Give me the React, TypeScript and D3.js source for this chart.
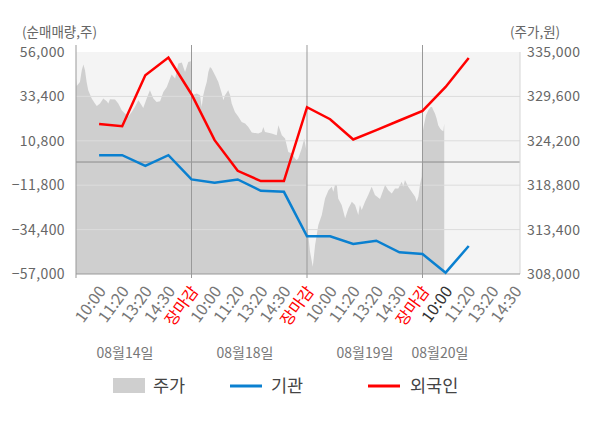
import React, { useEffect, useRef } from 'react';
import * as d3 from 'd3';

// x positions are "slots": each trading day is 5 slots wide (10:00, 11:20, 13:20, 14:30, 장마감)
const dayTickLabels = ['10:00', '11:20', '13:20', '14:30', '장마감'];
const dates = ['08월14일', '08월18일', '08월19일', '08월20일'];

// 외국인 / 기관 net buy (shares), one value per slot from slot 1
const foreign = [19400, 18230, 44160, 53150, 34500, 11120, -4490, -9720, -9720, 27890, 21790, 11470, 16200, 21130, 26010, 38210, 52950];
const institution = [3490, 3490, -1950, 3490, -8860, -10590, -8860, -14650, -15160, -37830, -37830, -41750, -40070, -45970, -46830, -56330, -42760];

// stock price per day: [slot within day, price]
const price0: [number, number][] = [
  [0, 331770], [0.03, 330870], [0.17, 331360], [0.25, 332780], [0.32, 333470], [0.39, 332780],
  [0.46, 331360], [0.53, 330350], [0.68, 329340], [0.82, 328730], [0.9, 328440], [1.04, 328730],
  [1.18, 329340], [1.33, 329010], [1.4, 328730], [1.47, 329250], [1.69, 329220], [1.83, 328730],
  [1.98, 327920], [2.12, 327520], [2.26, 327110], [2.41, 327710], [2.55, 328320], [2.7, 329130],
  [2.84, 328530], [2.91, 328200], [3.06, 329340], [3.2, 330350], [3.35, 329340], [3.49, 328930],
  [3.64, 329010], [3.78, 330140], [3.93, 330750], [4.07, 331770], [4.14, 332260], [4.29, 331770],
  [4.43, 333590], [4.58, 333710], [4.72, 332570], [4.86, 333790], [4.97, 333870],
];
const price1: [number, number][] = [
  [0, 329740], [0.23, 329950], [0.37, 329740], [0.44, 328320], [0.51, 329740], [0.58, 330550],
  [0.66, 331360], [0.73, 332570], [0.8, 333180], [0.87, 332980], [1.02, 332170], [1.16, 331360],
  [1.31, 329950], [1.38, 329130], [1.45, 329740], [1.59, 330350], [1.67, 329740], [1.74, 328730],
  [1.88, 327710], [2.03, 327110], [2.17, 326500], [2.32, 326300], [2.46, 325890], [2.61, 325210],
  [2.89, 325090], [3.04, 325280], [3.11, 325890], [3.18, 325280], [3.47, 325090], [3.69, 324880],
  [3.76, 326100], [3.91, 324880], [4.05, 324480], [4.19, 322850], [4.34, 322660], [4.48, 322050],
  [4.55, 321850], [4.62, 322050], [4.77, 323270], [4.88, 324480], [4.97, 323060],
];
const price2: [number, number][] = [
  [0.01, 313950], [0.13, 310710], [0.25, 308890], [0.35, 311520], [0.49, 313950], [0.64, 315170],
  [0.78, 317190], [0.93, 318200], [1.07, 318600], [1.14, 318000], [1.21, 318810], [1.29, 318810],
  [1.35, 317190], [1.5, 316380], [1.65, 314770], [1.79, 315980], [1.94, 316780], [2.08, 316380],
  [2.22, 315170], [2.29, 316380], [2.37, 315770], [2.51, 316780], [2.65, 317600], [2.8, 318600],
  [2.94, 317600], [3.16, 317110], [3.38, 318810], [3.52, 318200], [3.67, 317800], [3.81, 318410],
  [3.95, 318410], [4.1, 319210], [4.17, 318600], [4.24, 319420], [4.38, 318600], [4.53, 318000],
  [4.68, 317390], [4.75, 316780], [4.82, 317390], [4.89, 318810], [4.96, 319820],
];
const price3: [number, number][] = [
  [0.01, 325280], [0.06, 326100], [0.15, 327310], [0.25, 327920], [0.35, 328320], [0.41, 328320],
  [0.47, 327920], [0.54, 327520], [0.61, 326910], [0.68, 326100], [0.76, 325700], [0.83, 325490],
  [0.9, 325370], [0.94, 326300],
];
const priceDays = [price0, price1, price2, price3];

const leftTicks = [56000, 33400, 10800, -11800, -34400, -57000];
const rightTicks = [335000, 329600, 324200, 318800, 313400, 308000];

const SLOTS_PER_DAY = 5;
const FONT = '"Noto Sans CJK KR", "Noto Sans", sans-serif';

const App: React.FC = () => {
  const svgRef = useRef<SVGSVGElement>(null);

  useEffect(() => {
    if (!svgRef.current) return;
    const svg = d3.select(svgRef.current);
    svg.selectAll('*').remove();

    const left = 76, right = 520, top = 52, bottom = 274;

    const x = d3.scaleLinear().domain([0, 19.22]).range([left, right]);
    const yL = d3.scaleLinear().domain([-57000, 56000]).range([bottom, top]);
    const yR = d3.scaleLinear().domain([308000, 335000]).range([bottom, top]);

    svg.append('rect')
      .attr('x', left).attr('y', top)
      .attr('width', right - left).attr('height', bottom - top)
      .attr('fill', '#f4f4f4');

    svg.append('clipPath').attr('id', 'plot-clip')
      .append('rect')
      .attr('x', left).attr('y', top)
      .attr('width', right - left).attr('height', bottom - top);

    // price area
    const priceSeries = priceDays.flatMap((day, d) =>
      day.map(([t, p]) => ({ s: d * SLOTS_PER_DAY + t, p })));
    const area = d3.area<{ s: number; p: number }>()
      .x(d => x(d.s))
      .y0(bottom)
      .y1(d => yR(d.p));
    svg.append('path')
      .datum(priceSeries)
      .attr('clip-path', 'url(#plot-clip)')
      .attr('fill', '#cfcfcf')
      .attr('d', area);

    // grid
    svg.append('g')
      .selectAll('line')
      .data(leftTicks.slice(1, -1))
      .enter()
      .append('line')
      .attr('x1', left).attr('x2', right)
      .attr('y1', d => yL(d)).attr('y2', d => yL(d))
      .attr('stroke', '#dcdcdc')
      .attr('stroke-width', 1);

    svg.append('line')
      .attr('x1', left).attr('x2', right)
      .attr('y1', yL(0)).attr('y2', yL(0))
      .attr('stroke', '#8c8c8c');

    // day dividers + left axis line
    svg.append('g')
      .selectAll('line')
      .data([0, 5, 10, 15])
      .enter()
      .append('line')
      .attr('x1', d => x(d)).attr('x2', d => x(d))
      .attr('y1', 45).attr('y2', bottom + 4)
      .attr('stroke', '#999');

    svg.append('line')
      .attr('x1', right).attr('x2', right)
      .attr('y1', top).attr('y2', bottom)
      .attr('stroke', '#d6d6d6');

    svg.append('line')
      .attr('x1', left).attr('x2', right)
      .attr('y1', bottom).attr('y2', bottom)
      .attr('stroke', '#999');

    // lines
    const line = d3.line<number>()
      .x((_, i) => x(i + 1))
      .y(d => yL(d));
    svg.append('path')
      .datum(institution)
      .attr('fill', 'none')
      .attr('stroke', '#0a80d0')
      .attr('stroke-width', 2.5)
      .attr('d', line);
    svg.append('path')
      .datum(foreign)
      .attr('fill', 'none')
      .attr('stroke', '#ff0000')
      .attr('stroke-width', 2.5)
      .attr('d', line);

    // y axis labels
    svg.append('g')
      .selectAll('text')
      .data(leftTicks)
      .enter()
      .append('text')
      .attr('x', 65)
      .attr('y', d => yL(d))
      .attr('dy', '0.35em')
      .attr('text-anchor', 'end')
      .style('font-size', '14px')
      .style('letter-spacing', '0.4px')
      .style('fill', '#666')
      .text(d => d3.format(',')(d));

    svg.append('g')
      .selectAll('text')
      .data(rightTicks)
      .enter()
      .append('text')
      .attr('x', 527)
      .attr('y', d => yR(d))
      .attr('dy', '0.35em')
      .style('font-size', '14px')
      .style('letter-spacing', '0.4px')
      .style('fill', '#666')
      .text(d => d3.format(',')(d));

    svg.append('text')
      .attr('x', 22).attr('y', 37)
      .style('font-size', '13.5px').style('fill', '#666')
      .text('(순매매량,주)');
    svg.append('text')
      .attr('x', 510).attr('y', 37)
      .style('font-size', '13.5px').style('fill', '#666')
      .text('(주가,원)');

    // x tick labels
    const ticks = dates.flatMap((_, d) =>
      dayTickLabels.map((label, k) => ({ s: d * SLOTS_PER_DAY + k + 1, label })))
      .filter(t => t.s < 20);
    svg.append('g')
      .selectAll('text')
      .data(ticks)
      .enter()
      .append('text')
      .attr('transform', d => `translate(${x(d.s) + 3},${bottom + 14}) rotate(-54)`)
      .attr('text-anchor', 'end')
      .attr('dy', '0.35em')
      .style('font-size', '16px')
      .style('fill', d => (d.label === '장마감' ? '#ff0000' : d.s === 16 ? '#333' : '#777'))
      .text(d => d.label);

    const dateX = [125, 245, 365, 440];
    svg.append('g')
      .selectAll('text')
      .data(dates)
      .enter()
      .append('text')
      .attr('x', (_, i) => dateX[i])
      .attr('y', 358)
      .attr('text-anchor', 'middle')
      .style('font-size', '14px')
      .style('fill', '#777')
      .text(d => d);

    // legend
    const legend = svg.append('g').style('font-size', '17.5px').style('fill', '#444');
    legend.append('rect').attr('x', 113).attr('y', 378).attr('width', 32).attr('height', 15).attr('fill', '#cfcfcf');
    legend.append('text').attr('x', 153).attr('y', 392).text('주가');
    legend.append('line').attr('x1', 230).attr('x2', 262).attr('y1', 386).attr('y2', 386)
      .attr('stroke', '#0a80d0').attr('stroke-width', 3);
    legend.append('text').attr('x', 271).attr('y', 392).text('기관');
    legend.append('line').attr('x1', 368).attr('x2', 400).attr('y1', 386).attr('y2', 386)
      .attr('stroke', '#ff0000').attr('stroke-width', 3);
    legend.append('text').attr('x', 410).attr('y', 392).text('외국인');
  }, []);

  return (
    <svg
      ref={svgRef}
      width={600}
      height={428}
      style={{ position: 'absolute', left: 0, top: 0, background: '#fff', fontFamily: FONT }}
    />
  );
};

export default App;
